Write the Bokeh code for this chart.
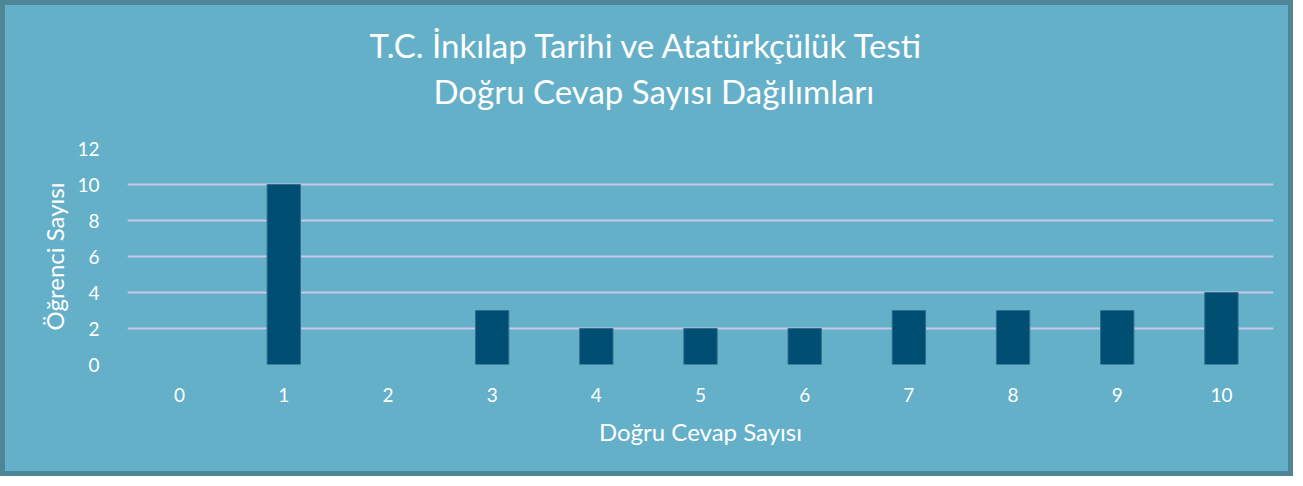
from bokeh.plotting import figure
from bokeh.models import Range1d, Title
from bokeh.embed import file_html
from bokeh.resources import INLINE

categories = ["0", "1", "2", "3", "4", "5", "6", "7", "8", "9", "10"]
counts = [0, 10, 0, 3, 2, 2, 2, 3, 3, 3, 4]
y_ticks = [0, 2, 4, 6, 8, 10, 12]
title_lines = ["T.C. İnkılap Tarihi ve Atatürkçülük Testi", "Doğru Cevap Sayısı Dağılımları"]
x_title = "Doğru Cevap Sayısı"
y_title = "Öğrenci Sayısı"

BG = "#64B0C9"
BORDER = "#4E8597"
BAR = "#004E72"
GRID = "#C9C6EA"
FONT = "Lato"
TITLE_PX = 33

p = figure(x_range=categories, y_range=Range1d(0, 12), width=1293, height=476,
           output_backend="svg", toolbar_location=None,
           min_border_left=122, min_border_right=25, min_border_top=143, min_border_bottom=117)
p.background_fill_alpha = 0
p.border_fill_color = BG
p.outline_line_color = None
p.styles = {"border": f"5px solid {BORDER}", "background-color": BG}

p.vbar(x=categories, top=counts, width=0.32, fill_color=BAR,
       line_color="#2F6F8F", line_width=1,
       line_alpha=[0 if c == 0 else 1 for c in counts])

p.xgrid.grid_line_color = None
p.ygrid.grid_line_color = GRID
p.ygrid.grid_line_width = 2
p.yaxis.ticker = y_ticks

for ax in (p.xaxis[0], p.yaxis[0]):
    ax.axis_line_color = None
    ax.major_tick_line_color = None
    ax.minor_tick_line_color = None
    ax.major_label_text_color = "white"
    ax.major_label_text_font = FONT
    ax.major_label_text_font_size = "19px"
    ax.axis_label_text_color = "white"
    ax.axis_label_text_font = FONT
    ax.axis_label_text_font_size = "24px"
    ax.axis_label_text_font_style = "normal"

p.xaxis.axis_label = x_title
p.yaxis.axis_label = y_title
p.xaxis.major_label_standoff = 17
p.xaxis.axis_label_standoff = 12
p.yaxis.major_label_standoff = 22
p.yaxis.axis_label_standoff = 5

def title_obj(text, offset, size, standoff):
    return Title(text=text, align="left", offset=offset, standoff=standoff,
                 text_color="white", text_font=FONT, text_font_size=size,
                 text_font_style="normal")

# blank spacer between the plot area and the two title lines
p.add_layout(title_obj(" ", 0, "10px", 22), "above")
p.add_layout(title_obj(title_lines[1], 306, f"{TITLE_PX}px", 4), "above")
p.title = title_obj(title_lines[0], 242, f"{TITLE_PX}px", 4)

open("out.html", "w").write(file_html(p, INLINE))
